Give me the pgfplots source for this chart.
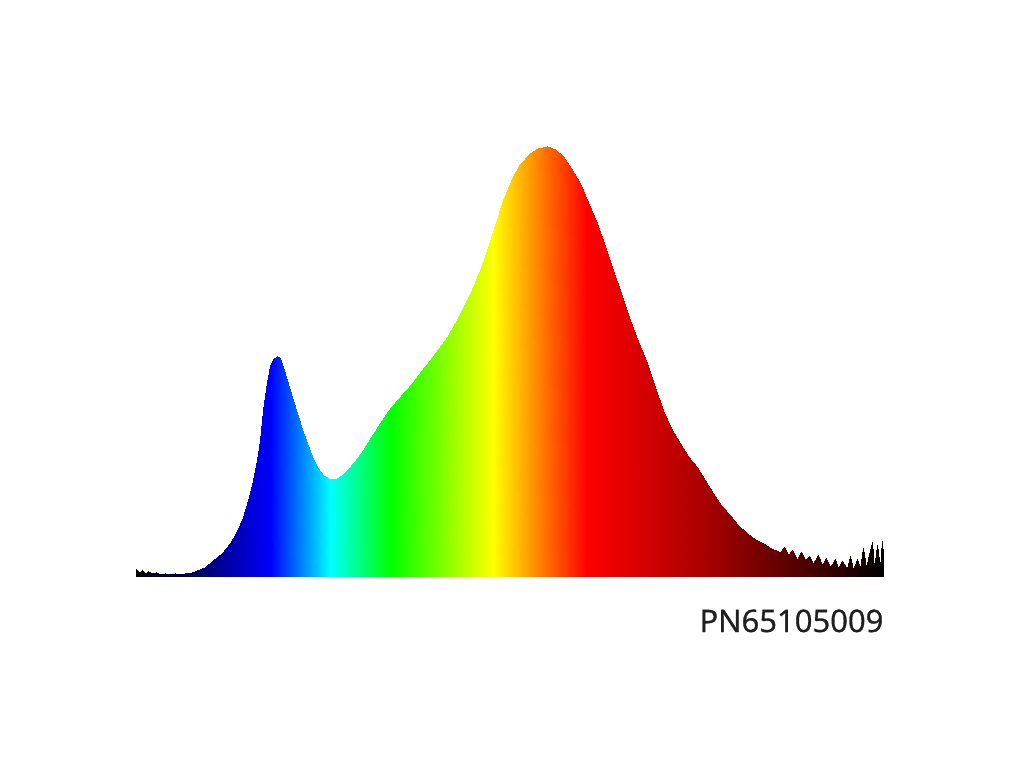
\documentclass[border=0pt]{standalone}
\usepackage{fontspec}
\setmainfont{Open Sans}
\newfontfamily\labelfont{Open Sans}[FakeBold=1]
\usepackage{pgfplots}
\pgfplotsset{compat=1.18}
\begin{document}
\begin{tikzpicture}
\useasboundingbox (0,0) rectangle (307.2pt,230.4pt);
\begin{axis}[at={(40.8pt,57.6pt)}, anchor=south west, scale only axis,
  width=224.4pt, height=128.7pt, xmin=380, xmax=780, ymin=0, ymax=1,
  hide axis, clip=false,
  colormap={spectrum}{rgb255(380)=(0,0,0) rgb255(405)=(0,0,60) rgb255(425)=(0,0,150)
    rgb255(452)=(0,0,255) rgb255(484)=(0,255,255) rgb255(516)=(0,255,0)
    rgb255(571)=(255,255,0) rgb255(621)=(255,0,0) rgb255(690)=(160,0,0) rgb255(780)=(0,0,0)},
  point meta min=380, point meta max=780]
\addplot[surf, shader=interp, mesh/ordering=x varies, mesh/rows=2, point meta=x] coordinates {
(380.0,0)(381.6,0)(383.2,0)(384.8,0)(386.4,0)(388.6,0)(390.7,0)(392.8,0)(395.5,0)(398.2,0)
(400.9,0)(403.5,0)(406.2,0)(408.9,0)(412.6,0)(416.9,0)(421.2,0)(426.0,0)(430.3,0)(434.0,0)
(437.2,0)(439.9,0)(442.6,0)(444.7,0)(446.3,0)(447.9,0)(450.1,0)(451.7,0)(453.3,0)(455.4,0)
(457.0,0)(458.6,0)(460.7,0)(463.4,0)(466.1,0)(468.8,0)(471.4,0)(474.1,0)(476.8,0)(480.0,0)
(483.7,0)(487.5,0)(490.7,0)(492.8,0)(497.1,0)(501.4,0)(505.7,0)(510.5,0)(514.8,0)(519.6,0)
(523.9,0)(528.1,0)(532.4,0)(537.2,0)(541.5,0)(546.3,0)(550.6,0)(554.9,0)(559.7,0)(564.0,0)
(567.7,0)(572.0,0)(576.3,0)(578.9,0)(581.6,0)(585.3,0)(590.7,0)(595.0,0)(599.8,0)(604.1,0)
(608.3,0)(612.6,0)(617.4,0)(621.7,0)(626.5,0)(630.8,0)(635.1,0)(639.9,0)(644.2,0)(648.5,0)
(653.3,0)(657.5,0)(661.8,0)(666.1,0)(670.9,0)(675.2,0)(680.0,0)(684.3,0)(688.6,0)(692.8,0)
(697.6,0)(701.9,0)(706.7,0)(711.0,0)(715.3,0)(719.6,0)(724.4,0)(726.5,0)(728.7,0)(731.0,0)
(733.5,0)(735.6,0)(737.8,0)(740.0,0)(742.0,0)(744.5,0)(746.8,0)(749.0,0)(751.1,0)(753.8,0)
(755.4,0)(757.5,0)(760.2,0)(761.8,0)(763.4,0)(765.6,0)(767.3,0)(768.9,0)(770.5,0)(772.2,0)
(773.8,0)(774.9,0)(776.5,0)(778.1,0)(779.1,0)(780.0,0)
(380.0,0.016)(381.6,0.009)(383.2,0.014)(384.8,0.007)(386.4,0.012)(388.6,0.007)(390.7,0.009)(392.8,0.005)(395.5,0.007)(398.2,0.005)
(400.9,0.007)(403.5,0.005)(406.2,0.007)(408.9,0.007)(412.6,0.014)(416.9,0.021)(421.2,0.037)(426.0,0.054)(430.3,0.077)(434.0,0.105)
(437.2,0.138)(439.9,0.177)(442.6,0.224)(444.7,0.270)(446.3,0.317)(447.9,0.387)(450.1,0.452)(451.7,0.490)(453.3,0.506)(455.4,0.513)
(457.0,0.508)(458.6,0.487)(460.7,0.457)(463.4,0.417)(466.1,0.380)(468.8,0.343)(471.4,0.310)(474.1,0.280)(476.8,0.254)(480.0,0.235)
(483.7,0.226)(487.5,0.228)(490.7,0.238)(492.8,0.247)(497.1,0.268)(501.4,0.294)(505.7,0.324)(510.5,0.357)(514.8,0.385)(519.6,0.410)
(523.9,0.431)(528.1,0.452)(532.4,0.478)(537.2,0.503)(541.5,0.529)(546.3,0.557)(550.6,0.590)(554.9,0.627)(559.7,0.669)(564.0,0.713)
(567.7,0.760)(572.0,0.818)(576.3,0.876)(578.9,0.904)(581.6,0.932)(585.3,0.960)(590.7,0.986)(595.0,0.998)(599.8,1.002)(604.1,0.995)
(608.3,0.979)(612.6,0.951)(617.4,0.916)(621.7,0.872)(626.5,0.823)(630.8,0.769)(635.1,0.713)(639.9,0.653)(644.2,0.597)(648.5,0.548)
(653.3,0.497)(657.5,0.441)(661.8,0.387)(666.1,0.345)(670.9,0.310)(675.2,0.280)(680.0,0.254)(684.3,0.224)(688.6,0.193)(692.8,0.166)
(697.6,0.142)(701.9,0.119)(706.7,0.100)(711.0,0.086)(715.3,0.077)(719.6,0.065)(724.4,0.056)(726.5,0.068)(728.7,0.049)(731.0,0.060)
(733.5,0.040)(735.6,0.056)(737.8,0.037)(740.0,0.047)(742.0,0.030)(744.5,0.049)(746.8,0.026)(749.0,0.042)(751.1,0.021)(753.8,0.040)
(755.4,0.019)(757.5,0.035)(760.2,0.016)(761.8,0.047)(763.4,0.014)(765.6,0.040)(767.3,0.016)(768.9,0.065)(770.5,0.019)(772.2,0.051)
(773.8,0.079)(774.9,0.014)(776.5,0.072)(778.1,0.019)(779.1,0.082)(780.0,0.012)
};
\end{axis}
\node[anchor=base east, font=\labelfont\fontsize{9.3}{11}\selectfont, text=black!88, inner sep=0pt] at (265.2pt,40.8pt) {PN65105009};
\end{tikzpicture}
\end{document}
